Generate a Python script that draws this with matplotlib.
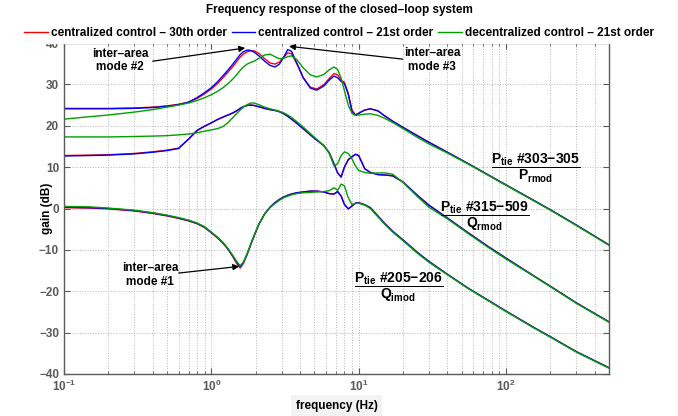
import numpy as np
import matplotlib
matplotlib.use('Agg')
import matplotlib.pyplot as plt

# ---------------- data ----------------
freq_hz = [0.1, 0.15, 0.2, 0.3, 0.4, 0.5, 0.6, 0.7, 0.8, 0.9,
           1.0, 1.1, 1.2, 1.3, 1.4, 1.5, 1.57, 1.65, 1.75, 1.85,
           1.95, 2.1, 2.3, 2.5, 2.7, 2.9, 3.1, 3.3, 3.5, 3.8,
           4.2, 4.7, 5.2, 5.8, 6.3, 6.8, 7.2, 7.6, 8.0, 8.5,
           9.0, 9.5, 10, 11, 12, 13.5, 15, 17, 20, 25,
           30, 40, 55, 75, 100, 150, 200, 300, 500]

# Ptie #303-305 / Prmod
top_red = [24.2, 24.2, 24.2, 24.3, 24.5, 24.8, 25.2, 25.7, 26.6, 27.7,
           28.9, 30.2, 31.6, 33.0, 34.3, 35.7, 36.6, 37.3, 37.9, 38.1,
           38.1, 37.5, 36.2, 35.2, 34.9, 35.4, 36.6, 37.6, 37.4, 35.0,
           31.7, 29.3, 28.9, 29.9, 31.4, 32.6, 32.3, 31.0, 30.5, 27.8,
           23.8, 22.6, 23.0, 23.8, 24.1, 23.6, 22.4, 21.1, 19.6, 17.6,
           16.0, 13.6, 10.9, 8.2, 5.7, 2.2, -0.3, -4.0, -8.8]
top_blue = [24.1, 24.1, 24.1, 24.2, 24.4, 24.7, 25.1, 25.7, 26.8, 28.0,
            29.2, 30.6, 32.1, 33.5, 34.9, 36.3, 37.2, 37.9, 38.3, 38.2,
            37.8, 36.9, 35.6, 34.6, 34.2, 34.9, 36.6, 38.4, 38.0, 35.2,
            31.6, 29.1, 28.6, 29.6, 31.0, 32.0, 31.6, 30.7, 30.2, 27.6,
            23.5, 22.6, 23.0, 23.8, 24.1, 23.6, 22.4, 21.1, 19.6, 17.6,
            16.0, 13.6, 10.9, 8.2, 5.7, 2.2, -0.3, -4.0, -8.8]
top_green = [21.6, 22.2, 22.6, 23.3, 23.9, 24.5, 25.0, 25.5, 26.1, 26.8,
             27.5, 28.3, 29.2, 30.2, 31.3, 32.5, 33.4, 34.2, 34.9, 35.3,
             35.6, 36.3, 37.1, 37.3, 36.7, 36.2, 36.3, 36.7, 36.9, 36.0,
             34.0, 32.3, 31.8, 32.4, 33.5, 34.2, 33.6, 31.5, 28.5, 25.0,
             23.0, 22.5, 22.6, 22.8, 22.9, 22.5, 21.8, 20.8, 19.3, 17.2,
             15.6, 13.4, 10.8, 8.1, 5.6, 2.1, -0.4, -4.1, -8.9]

# Ptie #315-509 / Qrmod
mid_red = [12.8, 12.9, 13.0, 13.3, 13.7, 14.1, 14.6, 16.7, 18.8, 19.9,
           20.7, 21.5, 22.1, 22.6, 23.1, 23.7, 24.2, 24.6, 24.9, 25.0,
           24.9, 24.6, 24.2, 23.9, 23.7, 23.4, 22.9, 22.3, 21.6, 20.6,
           19.3, 17.8, 16.5, 15.2, 13.5, 10.8, 8.6, 7.6, 10.0, 11.8,
           12.5, 13.1, 12.8, 9.6, 8.7, 8.2, 8.1, 7.9, 6.4, 3.2,
           0.8, -2.3, -5.8, -9.1, -12.0, -16.0, -18.8, -22.8, -27.4]
mid_blue = [12.7, 12.8, 12.9, 13.2, 13.6, 14.0, 14.5, 16.8, 18.9, 19.9,
            20.7, 21.5, 22.1, 22.6, 23.1, 23.7, 24.2, 24.6, 24.9, 25.0,
            24.9, 24.6, 24.2, 23.9, 23.7, 23.4, 22.9, 22.3, 21.6, 20.6,
            19.3, 17.8, 16.5, 15.2, 13.5, 10.8, 8.6, 7.6, 10.0, 11.8,
            12.5, 13.1, 12.8, 9.6, 8.7, 8.2, 8.1, 7.9, 6.4, 3.2,
            0.8, -2.3, -5.8, -9.1, -12.0, -16.0, -18.8, -22.8, -27.4]
mid_green = [17.3, 17.3, 17.3, 17.4, 17.5, 17.6, 17.8, 18.0, 18.3, 18.7,
             19.0, 19.3, 19.8, 20.8, 22.0, 23.1, 23.8, 24.5, 25.1, 25.5,
             25.5, 25.1, 24.5, 24.1, 23.8, 23.5, 23.1, 22.6, 22.0, 21.0,
             19.7, 18.1, 16.7, 15.2, 13.4, 10.3, 10.8, 12.8, 13.7, 13.3,
             12.0, 10.3, 9.2, 8.7, 8.5, 8.6, 8.6, 8.3, 6.3, 2.9,
             0.3, -2.5, -6.0, -9.3, -12.2, -16.1, -18.9, -22.9, -27.5]

# Ptie #205-206 / Qimod
bot_red = [0.2, 0.1, -0.1, -0.6, -1.2, -1.8, -2.4, -3.0, -3.7, -4.6,
           -5.9, -7.1, -8.4, -9.9, -11.7, -13.5, -14.4, -13.3, -11.1, -8.8,
           -6.7, -3.9, -1.3, 0.3, 1.4, 2.2, 2.8, 3.2, 3.5, 3.8,
           4.0, 4.2, 4.2, 4.0, 3.6, 3.5, 4.1, 3.0, 1.0, -0.1,
           0.6, 1.3, 1.4, 0.9, 0.2, -1.8, -3.6, -5.5, -7.6, -10.6,
           -12.8, -15.9, -19.2, -22.1, -24.8, -28.5, -31.0, -34.6, -38.5]
bot_blue = [0.3, 0.2, 0.0, -0.5, -1.1, -1.7, -2.3, -2.9, -3.6, -4.5,
            -5.8, -7.0, -8.3, -9.8, -11.5, -13.2, -14.0, -13.1, -11.0, -8.7,
            -6.6, -3.8, -1.3, 0.3, 1.4, 2.2, 2.8, 3.2, 3.5, 3.8,
            4.0, 4.2, 4.2, 4.0, 3.6, 3.5, 4.1, 3.0, 1.0, -0.1,
            0.6, 1.3, 1.4, 0.9, 0.2, -1.8, -3.6, -5.5, -7.6, -10.6,
            -12.8, -15.9, -19.2, -22.1, -24.8, -28.5, -31.0, -34.6, -38.5]
bot_green = [0.5, 0.4, 0.1, -0.4, -1.0, -1.6, -2.2, -2.8, -3.5, -4.4,
             -5.7, -6.9, -8.2, -9.7, -11.4, -13.0, -13.8, -13.0, -10.9, -8.6,
             -6.5, -3.8, -1.4, 0.2, 1.2, 2.0, 2.6, 3.0, 3.3, 3.6,
             3.8, 3.9, 4.0, 4.1, 4.3, 5.0, 4.4, 5.9, 5.5, 2.6,
             1.0, 1.2, 1.3, 0.8, 0.0, -2.0, -3.8, -5.7, -7.8, -10.8,
             -13.0, -16.0, -19.3, -22.2, -24.9, -28.6, -31.1, -34.7, -38.6]

legend_labels = ['centralized control \u2013 30th order',
                 'centralized control \u2013 21st order',
                 'decentralized control \u2013 21st order']
y_ticks = [-40, -30, -20, -10, 0, 10, 20, 30, 40]

# ---------------- style ----------------
plt.rcParams['font.family'] = ['Liberation Sans', 'DejaVu Sans']
plt.rcParams['font.weight'] = 'bold'
plt.rcParams['mathtext.fontset'] = 'custom'
plt.rcParams['mathtext.rm'] = 'Liberation Sans:bold'
plt.rcParams['mathtext.it'] = 'Liberation Sans:bold'
plt.rcParams['mathtext.bf'] = 'Liberation Sans:bold'
plt.rcParams['mathtext.sf'] = 'Liberation Sans:bold'

RED, BLUE, GREEN = '#ff0000', '#0000ff', '#00a000'
GRAY = '#5a5a5a'

fig = plt.figure(figsize=(6.78, 4.16), dpi=100)
ax = fig.add_axes([64 / 678, 1 - 374 / 416, (609 - 64) / 678, (374 - 43) / 416])

f = np.array(freq_hz)
lw = 1.0
groups = [(top_red, top_blue, top_green),
          (mid_red, mid_blue, mid_green),
          (bot_red, bot_blue, bot_green)]
handles = None
for r, b, g in groups:
    hr, = ax.plot(f, r, color=RED, lw=lw)
    hb, = ax.plot(f, b, color=BLUE, lw=lw)
    hg, = ax.plot(f, g, color=GREEN, lw=lw)
    if handles is None:
        handles = [hr, hb, hg]

ax.set_xscale('log')
ax.set_xlim(0.1, 500)
ax.set_ylim(-40, 40)
ax.set_yticks(y_ticks)

ax.grid(True, which='major', axis='both', linestyle=':', color='#b5b5b5', lw=0.7)
ax.grid(True, which='minor', axis='x', linestyle=':', color='#b5b5b5', lw=0.7)
ax.tick_params(which='both', direction='in', top=True, right=True,
               color=GRAY, labelcolor=GRAY, labelsize=8.5)
ax.tick_params(which='major', length=4)
ax.tick_params(which='minor', length=2)
for s in ax.spines.values():
    s.set_color(GRAY)
    s.set_linewidth(1.0)

ax.set_xlabel('frequency (Hz)', fontsize=8.5, fontweight='bold', labelpad=4,
              bbox=dict(facecolor='#f3f3f3', edgecolor='none', pad=3))
ax.set_ylabel('gain (dB)', fontsize=8.5, fontweight='bold')
ax.yaxis.set_label_coords((53 - 64) / 545, 0.5)

fig.text(0.5, 1 - 10 / 416, 'Frequency response of the closed\u2013loop system',
         ha='center', va='center', fontsize=8.5, fontweight='bold')

leg = fig.legend(handles, legend_labels, loc='center', ncol=3,
                 bbox_to_anchor=(0.5, 1 - 33 / 416), frameon=True,
                 fontsize=8.5, handlelength=2.0, handletextpad=0.25,
                 columnspacing=0.4, borderpad=0.3, borderaxespad=0)
leg.get_frame().set_facecolor('white')
leg.get_frame().set_edgecolor('white')
leg.get_frame().set_alpha(1)

# ---------------- annotations ----------------
arrow_kw = dict(arrowstyle='-|>', color='k', lw=0.9, mutation_scale=9,
                shrinkA=0, shrinkB=0)

tb = np.array(top_blue)
m2 = np.where((f > 1.0) & (f < 2.5))[0]
i2 = m2[np.argmax(tb[m2])]
m3 = np.where((f > 3.0) & (f < 4.0))[0]
i3 = m3[np.argmax(tb[m3])]
bb = np.array(bot_blue)
m1 = np.where((f > 1.0) & (f < 2.5))[0]
i1 = m1[np.argmin(bb[m1])]

ax.text(0.24, 35.8, 'inter\u2013area\nmode #2', ha='center', va='center',
        fontsize=8.5, fontweight='bold', linespacing=1.15)
ax.annotate('', xy=(f[i2] * 0.97, tb[i2] + 0.5), xytext=(0.40, 35.6),
            arrowprops=arrow_kw)

ax.text(31.4, 35.9, 'inter\u2013area\nmode #3', ha='center', va='center',
        fontsize=8.5, fontweight='bold', linespacing=1.15)
ax.annotate('', xy=(f[i3] * 1.02, tb[i3] + 0.8), xytext=(19.9, 36.1),
            arrowprops=arrow_kw)

ax.text(0.385, -16.1, 'inter\u2013area\nmode #1', ha='center', va='center',
        fontsize=8.5, fontweight='bold', linespacing=1.15)
ax.annotate('', xy=(f[i1] * 0.985, bb[i1]), xytext=(0.60, -15.6),
            arrowprops=arrow_kw)

frac_kw = dict(ha='center', va='center', fontsize=10)
ax.text(160, 9.8, r'$\dfrac{P_{tie}\ \#303{-}305}{P_{rmod}}$', **frac_kw)
ax.text(72, -1.8, r'$\dfrac{P_{tie}\ \#315{-}509}{Q_{rmod}}$', **frac_kw)
ax.text(18.7, -19.0, r'$\dfrac{P_{tie}\ \#205{-}206}{Q_{imod}}$', **frac_kw)

fig.savefig('out.png', dpi=100)
